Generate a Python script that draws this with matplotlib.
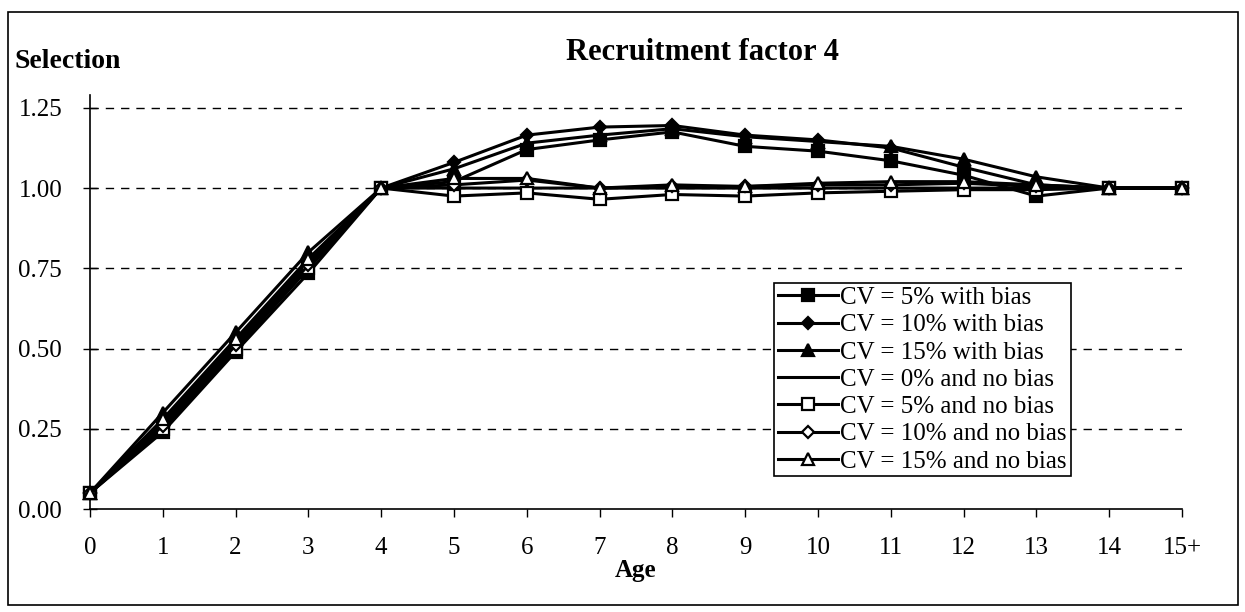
import matplotlib
matplotlib.use("Agg")
import matplotlib.pyplot as plt
from matplotlib.patches import Rectangle

plt.rcParams['font.family'] = ['Liberation Serif', 'DejaVu Serif']

ages = ["0", "1", "2", "3", "4", "5", "6", "7", "8", "9", "10", "11", "12", "13", "14", "15+"]

cv5_bias = [0.05, 0.24, 0.49, 0.735, 1.0, 1.02, 1.12, 1.15, 1.175, 1.13, 1.115, 1.085, 1.04, 0.975, 1.0, 1.0]
cv10_bias = [0.05, 0.27, 0.52, 0.77, 1.0, 1.08, 1.165, 1.19, 1.195, 1.165, 1.15, 1.125, 1.065, 1.01, 1.0, 1.0]
cv15_bias = [0.05, 0.30, 0.55, 0.80, 1.0, 1.06, 1.14, 1.165, 1.185, 1.16, 1.145, 1.13, 1.09, 1.035, 1.0, 1.0]
cv0_nobias = [0.05, 0.25, 0.50, 0.75, 1.0, 1.0, 1.0, 1.0, 1.0, 1.0, 1.0, 1.0, 1.0, 1.0, 1.0, 1.0]
cv5_nobias = [0.05, 0.25, 0.50, 0.75, 1.0, 0.975, 0.985, 0.965, 0.98, 0.975, 0.985, 0.99, 0.995, 0.995, 1.0, 1.0]
cv10_nobias = [0.05, 0.26, 0.51, 0.76, 1.0, 1.01, 1.025, 1.0, 1.005, 1.005, 1.01, 1.01, 1.015, 1.005, 1.0, 1.0]
cv15_nobias = [0.05, 0.28, 0.53, 0.78, 1.0, 1.03, 1.03, 1.0, 1.01, 1.005, 1.015, 1.02, 1.02, 1.01, 1.0, 1.0]

series = [
    ("CV = 5% with bias", cv5_bias, 's', 'black'),
    ("CV = 10% with bias", cv10_bias, 'D', 'black'),
    ("CV = 15% with bias", cv15_bias, '^', 'black'),
    ("CV = 0% and no bias", cv0_nobias, None, 'black'),
    ("CV = 5% and no bias", cv5_nobias, 's', 'white'),
    ("CV = 10% and no bias", cv10_nobias, 'D', 'white'),
    ("CV = 15% and no bias", cv15_nobias, '^', 'white'),
]

fig = plt.figure(figsize=(12.45, 6.12), dpi=100)
ax = fig.add_axes([90/1245, 103/612, (1182-90)/1245, (517-103)/612])

x = list(range(len(ages)))
for label, vals, mk, fc in series:
    ms = 8.5 if mk == 's' else (6.5 if mk == 'D' else 8.5)
    ax.plot(x, vals, color='black', lw=2.2, marker=mk, markersize=ms,
            markerfacecolor=fc, markeredgecolor='black', markeredgewidth=1.6,
            label=label, clip_on=False, zorder=3)

ax.set_xlim(0, 15)
ax.set_ylim(0, 1.29)
ax.set_xticks(x)
ax.set_xticklabels(ages, fontsize=18)
ax.set_yticks([0, 0.25, 0.5, 0.75, 1.0, 1.25])
ax.set_yticklabels(["0.00", "0.25", "0.50", "0.75", "1.00", "1.25"], fontsize=18)
ax.tick_params(axis='x', direction='out', length=6, width=1, pad=14)
ax.tick_params(axis='y', direction='inout', length=10, width=1, pad=15)
for yv in [0.25, 0.5, 0.75, 1.0, 1.25]:
    ax.axhline(yv, color='black', lw=1, ls=(0, (6, 5)), zorder=1)
ax.spines['top'].set_visible(False)
ax.spines['right'].set_visible(False)
ax.spines['left'].set_linewidth(1.2)
ax.spines['bottom'].set_linewidth(1.2)

ax.set_xlabel("Age", fontsize=18, fontweight='bold', labelpad=0)
fig.text(703/1245, 1 - 52/612, "Recruitment factor 4", fontsize=22, fontweight='bold',
         ha='center', va='center')
fig.text(15/1245, 1 - 61/612, "Selection", fontsize=20, fontweight='bold',
         ha='left', va='center')

leg = ax.legend(loc='upper left', bbox_to_anchor=((774-90)/1092, 1 - (283-95)/414),
                fontsize=18, frameon=True, fancybox=False, edgecolor='black',
                framealpha=1, labelspacing=0.19, handlelength=2.4, handletextpad=0.1,
                borderpad=0.15, borderaxespad=0)
leg.get_frame().set_linewidth(1.2)

fig.patches.append(Rectangle((8/1245, 7/612), 1230/1245, 593/612, transform=fig.transFigure,
                             fill=False, edgecolor='black', lw=1.2))

fig.savefig("out.png", dpi=100)
